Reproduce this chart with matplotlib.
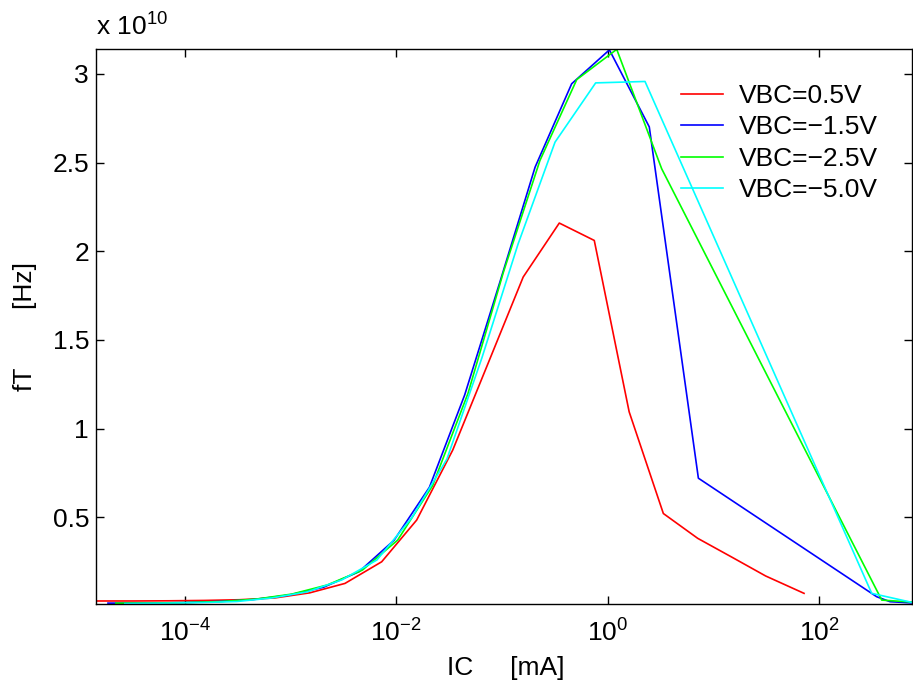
import matplotlib
matplotlib.use("Agg")
import matplotlib.pyplot as plt
from matplotlib.ticker import FixedLocator, NullLocator, FixedFormatter

plt.rcParams['font.family'] = ['Liberation Sans', 'DejaVu Sans']
plt.rcParams['mathtext.fontset'] = 'custom'
plt.rcParams['mathtext.rm'] = 'Liberation Sans'
plt.rcParams['mathtext.it'] = 'Liberation Sans:italic'
plt.rcParams['mathtext.bf'] = 'Liberation Sans:bold'

# ---- data (IC in mA, fT in units of 1e10 Hz) ----
labels = ['VBC=0.5V', 'VBC=\u22121.5V', 'VBC=\u22122.5V', 'VBC=\u22125.0V']
colors = ['#ff0000', '#0000ff', '#00ff00', '#00ffff']

ic_red = [1.44e-5, 3.27e-5, 7.06e-5, 1.52e-4, 3.27e-4, 7.05e-4, 1.52e-3, 3.27e-3,
          7.28e-3, 0.0156, 0.0342, 0.0738, 0.159, 0.349, 0.748, 1.60, 3.37,
          7.13, 15.0, 31.3, 72.3]
ft_red = [0.029, 0.029, 0.030, 0.032, 0.036, 0.046, 0.075, 0.128,
          0.25, 0.485, 0.879, 1.367, 1.855, 2.159, 2.061, 1.095, 0.522,
          0.382, 0.276, 0.170, 0.072]

ic_blue = [1.87e-5, 4.45e-5, 9.57e-5, 2.06e-4, 4.44e-4, 9.57e-4, 2.06e-3, 4.44e-3,
           9.55e-3, 0.0206, 0.0444, 0.0955, 0.206, 0.457, 1.04, 2.48, 7.23,
           352.0, 471.0, 760.0]
ft_blue = [0.017, 0.017, 0.020, 0.026, 0.037, 0.062, 0.107, 0.194,
           0.372, 0.67, 1.19, 1.825, 2.474, 2.944, 3.135, 2.701, 0.721,
           0.053, 0.025, 0.018]

ic_green = [2.22e-5, 4.79e-5, 1.03e-4, 2.22e-4, 4.79e-4, 1.03e-3, 2.22e-3, 4.78e-3,
            0.0103, 0.0221, 0.0478, 0.103, 0.229, 0.511, 1.22, 3.25, 393.0, 760.0]
ft_green = [0.017, 0.017, 0.020, 0.026, 0.040, 0.068, 0.119, 0.203,
            0.372, 0.68, 1.20, 1.88, 2.512, 2.968, 3.138, 2.465, 0.034, 0.023]

ic_cyan = [2.70e-5, 6.76e-5, 1.45e-4, 3.10e-4, 6.65e-4, 1.43e-3, 3.06e-3, 6.56e-3,
           0.0141, 0.0302, 0.0647, 0.142, 0.318, 0.771, 2.26, 316.0, 760.0]
ft_cyan = [0.014, 0.017, 0.020, 0.026, 0.046, 0.080, 0.148, 0.26,
           0.50, 0.83, 1.40, 2.04, 2.615, 2.949, 2.957, 0.072, 0.021]

series_ic = [ic_red, ic_blue, ic_green, ic_cyan]
series_ft = [ft_red, ft_blue, ft_green, ft_cyan]

xticks = [1e-4, 1e-2, 1e0, 1e2]
xticklabels = ['$10^{-4}$', '$10^{-2}$', '$10^{0}$', '$10^{2}$']
yticks = [0.5e10, 1.0e10, 1.5e10, 2.0e10, 2.5e10, 3.0e10]
yticklabels = ['0.5', '1', '1.5', '2', '2.5', '3']

FS = 19
W, H = 913, 685
fig = plt.figure(figsize=(W / 100, H / 100), dpi=100)
ax = fig.add_axes([96 / W, (H - 604) / H, (912 - 96) / W, (604 - 49) / H])

for ic, ft, c, lab in zip(series_ic, series_ft, colors, labels):
    ax.plot(ic, [v * 1e10 for v in ft], color=c, lw=1.2, label=lab)

ax.set_xscale('log')
ax.set_xlim(1.44e-5, 760)
ax.set_ylim(0.012e10, 3.14e10)
ax.xaxis.set_major_locator(FixedLocator(xticks))
ax.xaxis.set_major_formatter(FixedFormatter(xticklabels))
ax.xaxis.set_minor_locator(NullLocator())
ax.yaxis.set_major_locator(FixedLocator(yticks))
ax.yaxis.set_major_formatter(FixedFormatter(yticklabels))
ax.yaxis.set_minor_locator(NullLocator())
ax.tick_params(axis='both', which='major', direction='in', length=6, width=1.0,
               top=True, right=True, labelsize=FS, color='black')
ax.tick_params(axis='y', pad=5)
ax.tick_params(axis='x', pad=11)
for s in ax.spines.values():
    s.set_linewidth(1.0)

fig.text(96 / W, (H - 36) / H, 'x $10^{10}$', fontsize=FS, ha='left', va='baseline')
fig.text(506 / W, (H - 675) / H, 'IC     [mA]', fontsize=FS, ha='center', va='baseline')
fig.text(25 / W, (H - 327) / H, 'fT        [Hz]', fontsize=FS, ha='center', va='center',
         rotation=90)

ax.legend(loc='upper left', bbox_to_anchor=(681 / W, (H - 84) / H),
          bbox_transform=fig.transFigure, frameon=False, fontsize=FS,
          handlelength=1.6, handletextpad=0.6, labelspacing=0.28,
          borderpad=0, borderaxespad=0)

fig.savefig('out.png', dpi=100)
